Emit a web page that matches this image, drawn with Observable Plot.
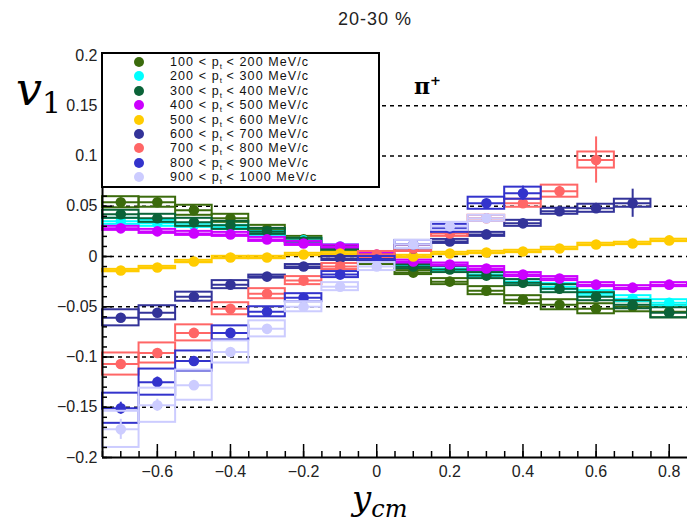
<!DOCTYPE html>
<html><head><meta charset="utf-8">
<script src="https://cdn.jsdelivr.net/npm/d3@7"></script>
<script src="https://cdn.jsdelivr.net/npm/@observablehq/plot@0.6"></script>
<style>
body{margin:0;background:#fff;}
#wrap{position:relative;width:687px;height:525px;font-family:"Liberation Sans",Arial,sans-serif;}
#wrap svg{position:absolute;left:0;top:0;}
.ov{position:absolute;white-space:nowrap;}
#legend{position:absolute;left:101px;top:52px;width:275px;height:132px;border:2px solid #000;background:#fff;}
.lrow{position:absolute;left:0;height:14px;font-size:12.5px;line-height:14px;color:#111;}
.ldot{position:absolute;left:31px;top:2px;width:10px;height:10px;border-radius:50%;}
.ltxt{position:absolute;left:67px;top:0px;white-space:nowrap;letter-spacing:1.1px;}
.ltxt sub{font-size:8px;vertical-align:-3px;line-height:0;letter-spacing:0;}
</style></head>
<body>
<div id="wrap">
  <div class="ov" style="left:375px;top:9px;transform:translateX(-50%);font-size:18px;letter-spacing:1px;color:#222;">20-30 %</div>
  <div class="ov" style="left:16px;top:64px;font-family:'DejaVu Serif',serif;font-style:italic;font-size:46px;line-height:50px;">v<span style="font-style:normal;font-size:30px;vertical-align:-8px;">1</span></div>
  <div class="ov" style="left:352px;top:478px;font-family:'DejaVu Serif',serif;font-style:italic;font-size:34px;line-height:40px;">y<span style="font-size:24px;vertical-align:-7px;">cm</span></div>
  <div class="ov" style="left:414px;top:68px;font-family:'DejaVu Serif',serif;font-size:22px;line-height:26px;font-weight:bold;">π<span style="font-size:13px;vertical-align:9px;">+</span></div>
  <div id="legend"></div>
</div>
<script>
// Bin centres in y_cm
const yBins = [-0.7,-0.6,-0.5,-0.4,-0.3,-0.2,-0.1,0,0.1,0.2,0.3,0.4,0.5,0.6,0.7,0.8];
const binHalfWidth = 0.05;

const seriesLabels = [
  ["100","200"],["200","300"],["300","400"],["400","500"],["500","600"],
  ["600","700"],["700","800"],["800","900"],["900","1000"]
];
const seriesColors = ["#3b6b0c","#00ffff","#0b6338","#cc00ff","#ffcc00","#333399","#ff6666","#3333cc","#ccccff"];

const v_100_200  = [0.054,0.054,0.046,0.038,0.027,0.017,0.007,-0.006,-0.016,-0.025,-0.034,-0.043,-0.048,-0.052,-0.050,-0.055];
const sys_100_200= [0.0055,0.005,0.005,0.004,0.004,0.003,0.002,0.002,0.002,0.003,0.004,0.004,0.005,0.005,0.005,0.006];
const v_200_300  = [0.035,0.033,0.031,0.029,0.023,0.016,0.010,0.000,-0.008,-0.012,-0.018,-0.025,-0.030,-0.037,-0.042,-0.046];
const sys_200_300= [0.003,0.003,0.002,0.002,0.002,0.002,0.0015,0.0015,0.0015,0.002,0.002,0.002,0.003,0.003,0.003,0.003];
const v_300_400  = [0.042,0.038,0.034,0.031,0.025,0.015,0.008,0.000,-0.010,-0.013,-0.019,-0.026,-0.032,-0.040,-0.048,-0.056];
const sys_300_400= [0.004,0.004,0.004,0.004,0.003,0.003,0.002,0.002,0.002,0.003,0.003,0.003,0.004,0.004,0.004,0.005];
const v_400_500  = [0.028,0.025,0.023,0.022,0.017,0.013,0.010,0.002,-0.005,-0.008,-0.012,-0.018,-0.022,-0.028,-0.031,-0.028];
const sys_400_500= [0.002,0.002,0.002,0.002,0.002,0.002,0.0015,0.0015,0.0015,0.0015,0.002,0.002,0.002,0.002,0.002,0.002];
const v_500_600  = [-0.014,-0.011,-0.005,-0.001,-0.001,0.002,0.003,0.000,0.000,0.003,0.004,0.005,0.008,0.012,0.013,0.016];
const sys_500_600= [0.0012,0.0012,0.0012,0.0012,0.0012,0.0012,0.0012,0.0012,0.0012,0.0012,0.0012,0.0012,0.0012,0.0012,0.0012,0.0012];
const v_600_700  = [-0.061,-0.056,-0.040,-0.028,-0.020,-0.010,-0.002,-0.002,0.008,0.015,0.022,0.033,0.045,0.048,0.053];
const sys_600_700= [0.008,0.007,0.0045,0.004,0.0015,0.002,0.002,0.003,0.003,0.002,0.002,0.003,0.003,0.004,0.004];
const stat_600_700=[0.003,0.003,0.002,0.002,0.002,0.002,0.002,0.002,0.002,0.002,0.002,0.003,0.004,0.005,0.014];
const v_700_800  = [-0.107,-0.096,-0.076,-0.052,-0.037,-0.024,-0.010,0.002,0.008,0.023,0.038,0.053,0.065,0.096];
const sys_700_800= [0.011,0.010,0.008,0.006,0.005,0.004,0.003,0.003,0.003,0.003,0.003,0.004,0.006,0.008];
const stat_700_800=[0.004,0.004,0.003,0.003,0.002,0.002,0.002,0.002,0.002,0.002,0.003,0.004,0.005,0.023];
const v_800_900  = [-0.151,-0.125,-0.104,-0.076,-0.055,-0.041,-0.018,-0.003,0.012,0.028,0.053,0.063];
const sys_800_900= [0.015,0.013,0.010,0.007,0.005,0.004,0.003,0.003,0.004,0.004,0.006,0.006];
const stat_800_900=[0.006,0.005,0.004,0.003,0.002,0.002,0.002,0.002,0.002,0.002,0.004,0.007];
const v_900_1000 = [-0.172,-0.148,-0.128,-0.095,-0.072,-0.050,-0.030,-0.010,0.012,0.030,0.038];
const sys_900_1000=[0.018,0.017,0.015,0.011,0.008,0.005,0.004,0.004,0.004,0.004,0.003];
const stat_900_1000=[0.010,0.006,0.004,0.003,0.002,0.002,0.002,0.002,0.002,0.002,0.003];

const yTicksMajor = [-0.2,-0.15,-0.1,-0.05,0,0.05,0.1,0.15,0.2];
const yTickLabels = ["\u22120.2","\u22120.15","\u22120.1","\u22120.05","0","0.05","0.1","0.15","0.2"];
const xTicksMajor = [-0.6,-0.4,-0.2,0,0.2,0.4,0.6,0.8];
const xTickLabels = ["\u22120.6","\u22120.4","\u22120.2","0","0.2","0.4","0.6","0.8"];
const gridLevels = [-0.15,-0.1,-0.05,0,0.05,0.1,0.15];
const xDomain = [-0.75, 0.85];
const yDomain = [-0.2, 0.2];

const seriesData = [
  [v_100_200, sys_100_200, null],
  [v_200_300, sys_200_300, null],
  [v_300_400, sys_300_400, null],
  [v_400_500, sys_400_500, null],
  [v_500_600, sys_500_600, null],
  [v_600_700, sys_600_700, stat_600_700],
  [v_700_800, sys_700_800, stat_700_800],
  [v_800_900, sys_800_900, stat_800_900],
  [v_900_1000, sys_900_1000, stat_900_1000]
];

const yMinor = d3.range(-20, 21).map(i => i / 100);
const xMinor = d3.range(-15, 17).map(i => i / 20);

const marks = [];
marks.push(Plot.ruleY(gridLevels, {stroke: "#000", strokeWidth: 1.6, strokeDasharray: "4,4"}));
seriesData.forEach(([vals, sys, stat], s) => {
  const c = seriesColors[s];
  const rows = vals.map((v, j) => ({x: yBins[j], v, sys: sys[j], stat: stat ? stat[j] : 0}));
  marks.push(Plot.rect(rows, {x1: d => d.x - binHalfWidth, x2: d => d.x + binHalfWidth, y1: d => d.v - d.sys, y2: d => d.v + d.sys, fill: "none", stroke: c, strokeWidth: 2}));
  marks.push(Plot.ruleY(rows, {y: "v", x1: d => d.x - binHalfWidth, x2: d => d.x + binHalfWidth, stroke: c, strokeWidth: 2}));
  marks.push(Plot.ruleX(rows.filter(d => d.stat > 0), {x: "x", y1: d => d.v - d.stat, y2: d => d.v + d.stat, stroke: c, strokeWidth: 2}));
  marks.push(Plot.dot(rows, {x: "x", y: "v", r: 5.3, fill: c, stroke: "none"}));
});
// frame lines (left & bottom)
marks.push(Plot.ruleX([xDomain[0]], {stroke: "#000", strokeWidth: 2}));
marks.push(Plot.ruleY([yDomain[0]], {stroke: "#000", strokeWidth: 2}));
// inward ticks
const plotW = 687 - 102 - 0, plotH = 525 - 55 - 68;
marks.push(Plot.tickY(yTicksMajor, {y: d => d, insetRight: plotW - 10, stroke: "#000", strokeWidth: 1.5}));
marks.push(Plot.tickY(yMinor, {y: d => d, insetRight: plotW - 5, stroke: "#000", strokeWidth: 1.5}));
marks.push(Plot.tickX(xTicksMajor, {x: d => d, insetTop: plotH - 13, stroke: "#000", strokeWidth: 1.5}));
marks.push(Plot.tickX(xMinor, {x: d => d, insetTop: plotH - 6, stroke: "#000", strokeWidth: 1.5}));
// tick labels
marks.push(Plot.axisY(yTicksMajor, {tickSize: 0, tickPadding: 5, tickFormat: (d, i) => yTickLabels[i], fontSize: 16, label: null}));
marks.push(Plot.axisX(xTicksMajor, {tickSize: 0, tickPadding: 8, tickFormat: (d, i) => xTickLabels[i], fontSize: 16, label: null}));

const chart = Plot.plot({
  width: 687, height: 525,
  marginLeft: 102, marginRight: 0, marginTop: 55, marginBottom: 68,
  x: {domain: xDomain},
  y: {domain: yDomain},
  style: {fontFamily: "Liberation Sans, Arial, sans-serif", color: "#222", background: "transparent"},
  marks
});
const wrap = document.getElementById("wrap");
wrap.insertBefore(chart, wrap.firstChild);

const legend = document.getElementById("legend");
seriesLabels.forEach(([lo, hi], i) => {
  const row = document.createElement("div");
  row.className = "lrow";
  row.style.top = (1 + i * 14.4) + "px";
  row.innerHTML = `<span class="ldot" style="background:${seriesColors[i]}"></span><span class="ltxt">${lo} &lt; p<sub>t</sub> &lt; ${hi} MeV/c</span>`;
  legend.appendChild(row);
});
</script>
</body></html>
